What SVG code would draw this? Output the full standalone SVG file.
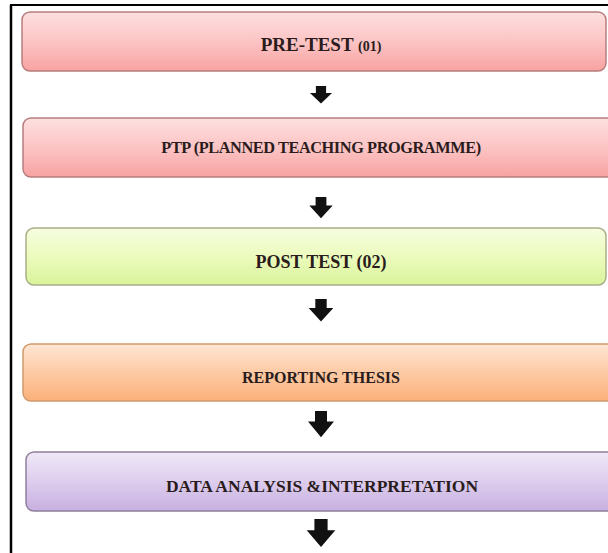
<svg xmlns="http://www.w3.org/2000/svg" width="608" height="553" viewBox="0 0 608 553">
<defs>
<linearGradient id="gPink" x1="0" y1="0" x2="0" y2="1"><stop offset="0" stop-color="#fde0e0"/><stop offset="0.5" stop-color="#fcc4c4"/><stop offset="1" stop-color="#f8a2a2"/></linearGradient>
<linearGradient id="gGreen" x1="0" y1="0" x2="0" y2="1"><stop offset="0" stop-color="#f6fde0"/><stop offset="0.5" stop-color="#ecfbbd"/><stop offset="1" stop-color="#d9f39a"/></linearGradient>
<linearGradient id="gOrange" x1="0" y1="0" x2="0" y2="1"><stop offset="0" stop-color="#fee6d4"/><stop offset="0.5" stop-color="#fdcaa4"/><stop offset="1" stop-color="#fbb07a"/></linearGradient>
<linearGradient id="gPurple" x1="0" y1="0" x2="0" y2="1"><stop offset="0" stop-color="#f0e8f7"/><stop offset="0.5" stop-color="#ddcdee"/><stop offset="1" stop-color="#c7b0e0"/></linearGradient>
<path id="arrow" d="M-6,0 H6 V10 H13 L0,25 L-13,10 H-6 Z"/>
</defs>
<style>
.box{stroke-width:1.5}
.lbl{font-family:"Liberation Serif","Times New Roman",serif;font-weight:bold;fill:#2a1c1c;text-anchor:middle}
.arr{fill:#111}
</style>
<rect width="608" height="553" fill="#fff"/>
<g id="frame">
<line x1="11" y1="5" x2="11" y2="553" stroke="#000" stroke-width="2.5"/>
<line x1="10" y1="5" x2="608" y2="5" stroke="#000" stroke-width="2"/>
</g>
<g id="n1">
<rect class="box" x="22" y="12" width="584" height="59" rx="8" fill="url(#gPink)" stroke="#b77d7d"/>
<text class="lbl" x="321" y="51" font-size="19">PRE-TEST <tspan font-size="14">(01)</tspan></text>
</g>
<g id="n2">
<rect class="box" x="23" y="118" width="600" height="59" rx="8" fill="url(#gPink)" stroke="#b77d7d"/>
<text class="lbl" x="321" y="153" font-size="16.3" letter-spacing="-0.4">PTP (PLANNED TEACHING PROGRAMME)</text>
</g>
<g id="n3">
<rect class="box" x="26" y="228" width="580" height="57" rx="8" fill="url(#gGreen)" stroke="#a8ae88"/>
<text class="lbl" x="321" y="268" font-size="18">POST TEST (02)</text>
</g>
<g id="n4">
<rect class="box" x="23" y="344" width="600" height="57" rx="8" fill="url(#gOrange)" stroke="#cf9a6c"/>
<text class="lbl" x="321" y="383" font-size="16">REPORTING THESIS</text>
</g>
<g id="n5">
<rect class="box" x="26" y="452" width="600" height="59" rx="8" fill="url(#gPurple)" stroke="#8f7f9c"/>
<text class="lbl" x="322" y="492" font-size="17.5">DATA ANALYSIS &amp;INTERPRETATION</text>
</g>
<g id="connectors">
<use href="#arrow" class="arr" transform="translate(321,86) scale(0.85,0.7)"/>
<use href="#arrow" class="arr" transform="translate(321,197) scale(0.9,0.85)"/>
<use href="#arrow" class="arr" transform="translate(321,299) scale(0.95,0.9)"/>
<use href="#arrow" class="arr" transform="translate(321,411) scale(1,1.05)"/>
<use href="#arrow" class="arr" transform="translate(321,519) scale(1.1,1.12)"/>
</g>
</svg>
